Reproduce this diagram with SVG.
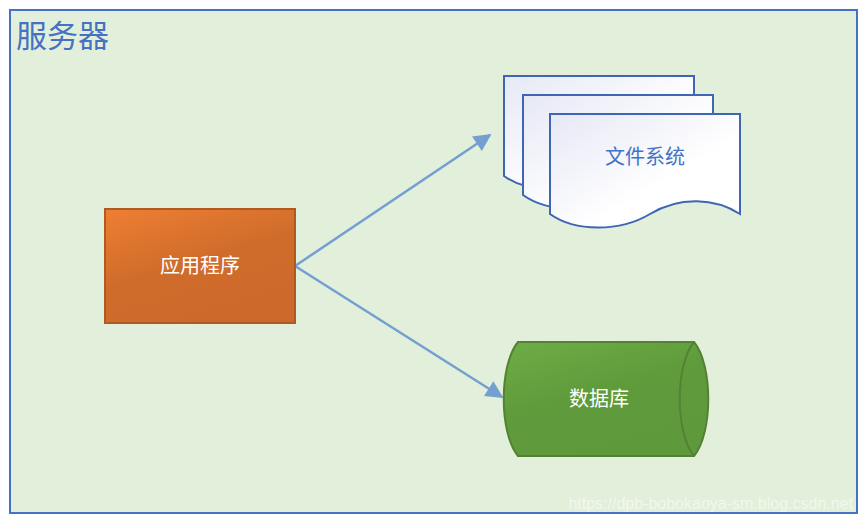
<svg xmlns="http://www.w3.org/2000/svg" width="867" height="520" viewBox="0 0 867 520">
<style>
.cjk{font-family:"Noto Sans CJK SC","Noto Sans",sans-serif}
.doc{fill:url(#docg);stroke:#3F65B5;stroke-width:2}
.lbl{font-size:20px;text-anchor:middle;dominant-baseline:central}
</style>
<defs>
<linearGradient id="docg" x1="0" y1="0" x2="1" y2="1">
<stop offset="0" stop-color="#E6E8F5"/><stop offset="0.6" stop-color="#FFFFFF"/>
</linearGradient>
<linearGradient id="og" x1="0" y1="0" x2="0.5" y2="1">
<stop offset="0" stop-color="#EE7F33"/><stop offset="0.55" stop-color="#D06C2B"/><stop offset="1" stop-color="#CD6A2B"/>
</linearGradient>
<linearGradient id="gg" x1="0" y1="0" x2="0.5" y2="1">
<stop offset="0" stop-color="#6EAE45"/><stop offset="0.55" stop-color="#5F9A3B"/><stop offset="1" stop-color="#5E9A3B"/>
</linearGradient>
<marker id="arr" viewBox="0 0 10 10" refX="9" refY="5" markerWidth="8" markerHeight="7" markerUnits="strokeWidth" orient="auto">
<path d="M0,0 L10,5 L0,10 z" fill="#749FD1"/>
</marker>
<path id="docshape" d="M0,0 H190 V100 C165,84 130,82 100,100 C70,118 25,118 0,100 Z"/>
</defs>
<rect x="10" y="10" width="847" height="503" fill="#E2EFDA" stroke="#4472C4" stroke-width="2"/>
<text x="16" y="47" class="cjk" font-size="31" fill="#4472C4">服务器</text>
<g id="connectors" stroke="#749FD1" stroke-width="2.5" fill="none">
<line x1="295" y1="266" x2="490" y2="135" marker-end="url(#arr)"/>
<line x1="295" y1="266" x2="502" y2="397" marker-end="url(#arr)"/>
</g>
<g id="app">
<rect x="105" y="209" width="190" height="114" fill="url(#og)" stroke="#AE5A21" stroke-width="2"/>
<text x="200" y="264" class="cjk lbl" fill="#FFFFFF">应用程序</text>
</g>
<g id="filesystem">
<use href="#docshape" class="doc" transform="translate(504,76)"/>
<use href="#docshape" class="doc" transform="translate(523,95)"/>
<use href="#docshape" class="doc" transform="translate(550,114)"/>
<text x="645" y="155" class="cjk lbl" fill="#4472C4">文件系统</text>
</g>
<g id="database">
<path d="M518,342 H694 C713,365 713,433 694,456 H518 C499,433 499,365 518,342 Z" fill="url(#gg)" stroke="#548235" stroke-width="2"/>
<path d="M694,342 C675,365 675,433 694,456" fill="none" stroke="#548235" stroke-width="2"/>
<text x="599" y="397" class="cjk lbl" fill="#FFFFFF">数据库</text>
</g>
<text x="853" y="509" font-family="'Liberation Sans',Arial,sans-serif" font-size="16" fill="#FFFFFF" fill-opacity="0.55" text-anchor="end">https://dpb-bobokaoya-sm.blog.csdn.net</text>
</svg>
